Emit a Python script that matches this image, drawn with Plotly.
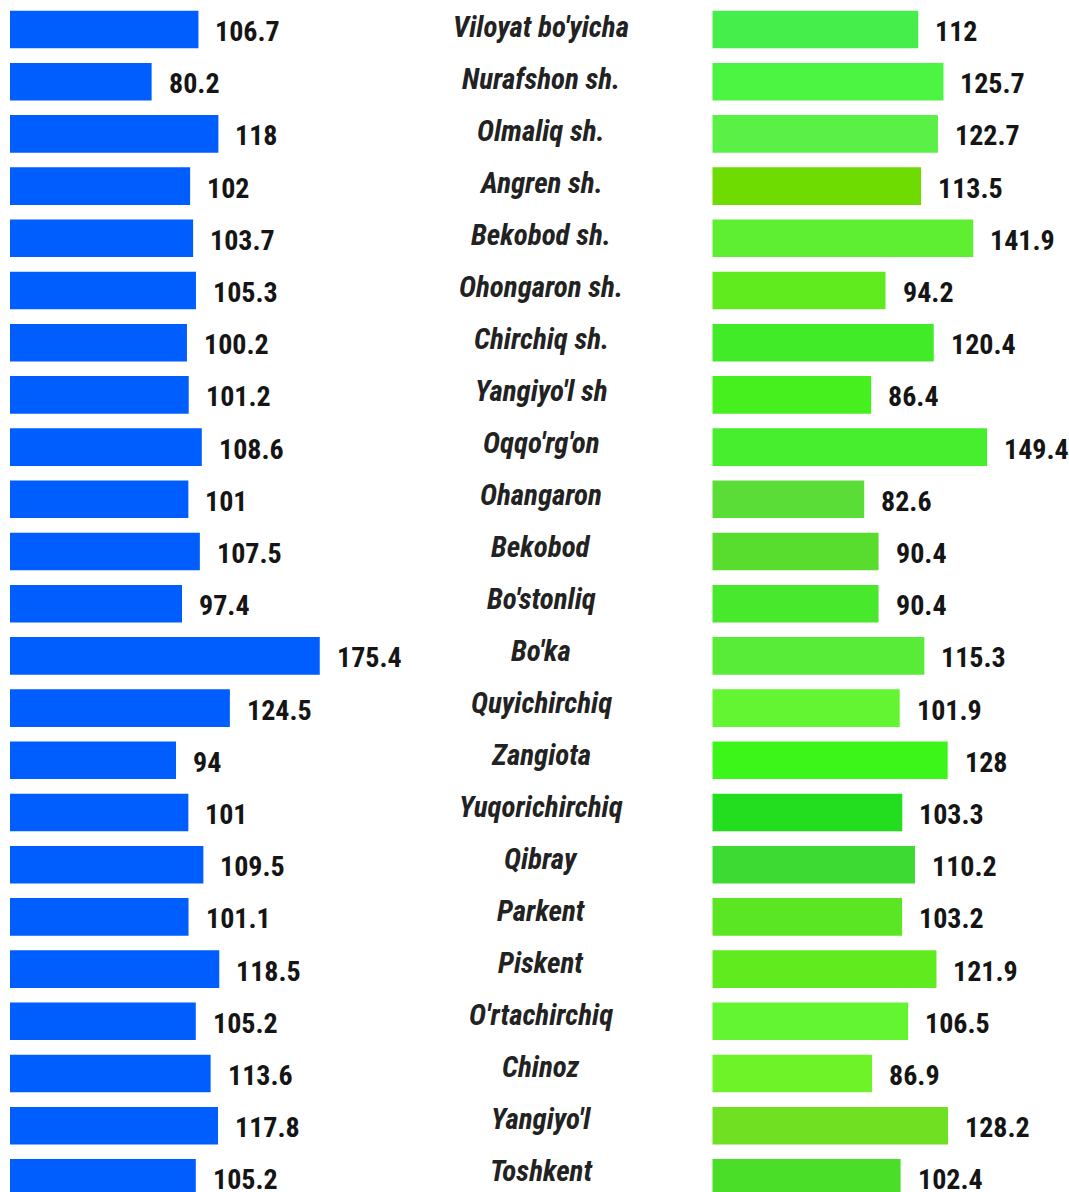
import plotly.graph_objects as go

# District names (top to bottom)
districts = [
    "Viloyat bo'yicha", "Nurafshon sh.", "Olmaliq sh.", "Angren sh.", "Bekobod sh.",
    "Ohongaron sh.", "Chirchiq sh.", "Yangiyo'l sh", "Oqqo'rg'on", "Ohangaron",
    "Bekobod", "Bo'stonliq", "Bo'ka", "Quyichirchiq", "Zangiota", "Yuqorichirchiq",
    "Qibray", "Parkent", "Piskent", "O'rtachirchiq", "Chinoz", "Yangiyo'l", "Toshkent",
]

# Left series (blue bars)
left_values = [
    106.7, 80.2, 118, 102, 103.7, 105.3, 100.2, 101.2, 108.6, 101, 107.5, 97.4,
    175.4, 124.5, 94, 101, 109.5, 101.1, 118.5, 105.2, 113.6, 117.8, 105.2,
]

# Right series (green bars)
right_values = [
    112, 125.7, 122.7, 113.5, 141.9, 94.2, 120.4, 86.4, 149.4, 82.6, 90.4, 90.4,
    115.3, 101.9, 128, 103.3, 110.2, 103.2, 121.9, 106.5, 86.9, 128.2, 102.4,
]

left_color = "#005EFF"
right_colors = [
    "#46EE4C", "#4BF541", "#5AF046", "#6EDC00", "#5EEE32", "#5FEB1E", "#41EB28",
    "#46F01E", "#46EE2D", "#5ADE37", "#58DC2D", "#48E82D", "#58EB37", "#64F532",
    "#3CF519", "#23DE1E", "#3CDA32", "#5AE623", "#5FEB1E", "#64F532", "#6EF228",
    "#70E023", "#4BDE28",
]

rows = list(range(len(districts)))
W, H = 1069, 1192

value_font = dict(family="Roboto Condensed, Open Sans Condensed, Liberation Sans",
                  size=28, color="#151515", weight="bold")
label_font = dict(family="Roboto Condensed, Open Sans Condensed, Liberation Sans",
                  size=29, color="#222222", weight="bold", style="italic")

fig = go.Figure()

fig.add_trace(go.Bar(
    x=left_values, y=rows, orientation="h", width=0.72,
    marker=dict(color=left_color, line=dict(width=0)),
    xaxis="x", yaxis="y", hoverinfo="skip", showlegend=False,
))
fig.add_trace(go.Bar(
    x=right_values, y=rows, orientation="h", width=0.72,
    marker=dict(color=right_colors, line=dict(width=0)),
    xaxis="x2", yaxis="y", hoverinfo="skip", showlegend=False,
))

annotations = []
for i, (name, lv, rv) in enumerate(zip(districts, left_values, right_values)):
    annotations.append(dict(
        x=lv, y=i, xref="x", yref="y", text=f"{lv:g}", showarrow=False,
        xanchor="left", yanchor="middle", xshift=15, yshift=-2, font=value_font,
    ))
    annotations.append(dict(
        x=rv, y=i, xref="x2", yref="y", text=f"{rv:g}", showarrow=False,
        xanchor="left", yanchor="middle", xshift=15, yshift=-2, font=value_font,
    ))
    annotations.append(dict(
        x=541 / W, y=i, xref="paper", yref="y3", text=name,
        showarrow=False, xanchor="center", yanchor="middle", font=label_font,
    ))

hidden = dict(visible=False, showgrid=False, zeroline=False, fixedrange=True)

fig.update_layout(
    width=W, height=H,
    margin=dict(l=0, r=0, t=0, b=0),
    paper_bgcolor="white", plot_bgcolor="white",
    barmode="overlay",
    xaxis=dict(domain=[10 / W, 0.45], range=[0, (0.45 * W - 10) / 1.766], **hidden),
    xaxis2=dict(domain=[712.3 / W, 1.0], range=[0, (W - 712.3) / 1.839], anchor="y", **hidden),
    yaxis=dict(range=[(H - 29.5) / 52.2, -29.5 / 52.2], **hidden),
    yaxis3=dict(range=[(H - 27) / 51.98, -27 / 51.98], overlaying="y", **hidden),
    annotations=annotations,
)

fig.write_html("out.html")
